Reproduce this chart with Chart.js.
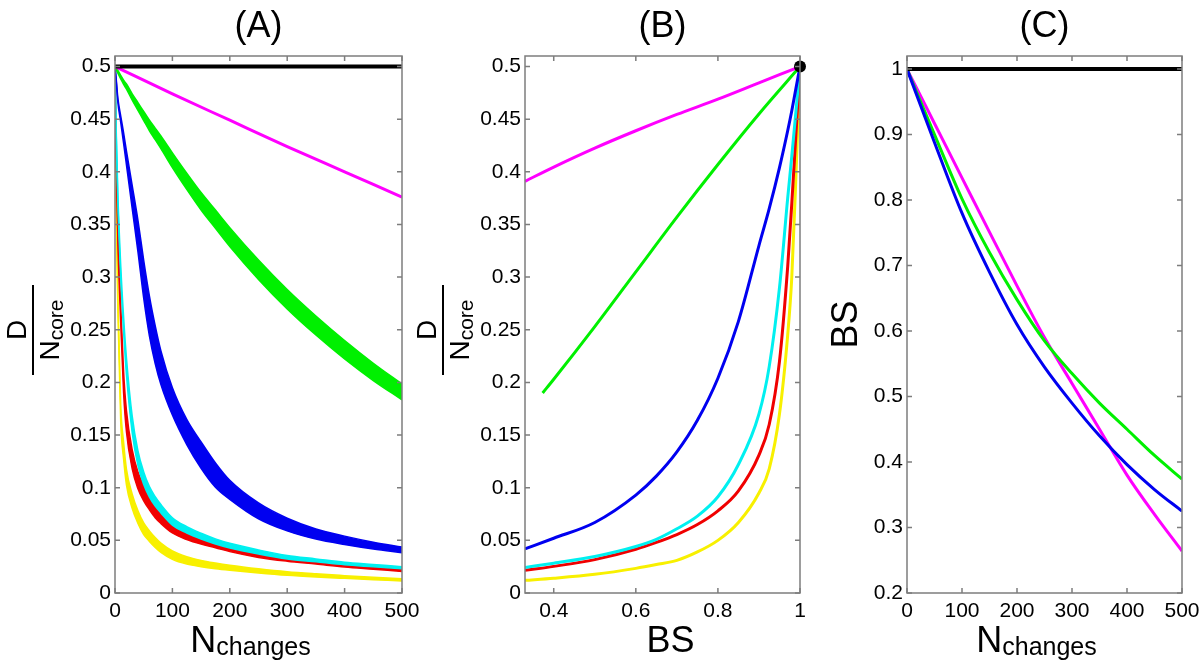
<!DOCTYPE html>
<html>
<head>
<meta charset="utf-8">
<title>D/Ncore and BS versus Nchanges</title>
<script src="https://cdn.jsdelivr.net/npm/chart.js@4.4.0/dist/chart.umd.min.js"></script>
<style>
  html, body { margin: 0; padding: 0; background: #fff; }
  #wrap { position: relative; width: 1200px; height: 663px; overflow: hidden; }
  canvas { position: absolute; top: 0; }
  #chartA { left: 0; }
  #chartB { left: 410px; }
  #chartC { left: 810px; }
</style>
</head>
<body>
<div id="wrap">
  <canvas id="chartA" width="420" height="663"></canvas>
  <canvas id="chartB" width="400" height="663"></canvas>
  <canvas id="chartC" width="390" height="663"></canvas>
</div>
<script>
// ---- panel A : D/Ncore vs Nchanges (bands = lower / upper edge) ----
const nA = [0, 2, 5, 10, 15, 20, 30, 40, 50, 60, 70, 80, 100, 125, 150, 175, 200, 250, 300, 350, 400, 450, 500];
const greenUpA = [0.5, 0.499, 0.4963, 0.4917, 0.487, 0.4834, 0.474, 0.4657, 0.4573, 0.449, 0.4415, 0.434, 0.418, 0.3987, 0.3803, 0.3637, 0.347, 0.3162, 0.2882, 0.263, 0.2397, 0.2182, 0.1985];
const greenLowA = [0.5, 0.497, 0.4937, 0.4883, 0.483, 0.4786, 0.468, 0.4583, 0.4487, 0.439, 0.4305, 0.422, 0.404, 0.3833, 0.3637, 0.3463, 0.329, 0.2978, 0.2698, 0.245, 0.2223, 0.2018, 0.1835];
const blueUpA = [0.5, 0.489, 0.47, 0.453, 0.437, 0.4196, 0.387, 0.354, 0.316, 0.282, 0.254, 0.23, 0.195, 0.165, 0.1435, 0.1235, 0.107, 0.0855, 0.071, 0.0608, 0.054, 0.0483, 0.0437];
const blueLowA = [0.5, 0.487, 0.466, 0.447, 0.427, 0.4064, 0.365, 0.324, 0.28, 0.244, 0.218, 0.198, 0.169, 0.141, 0.1185, 0.1005, 0.089, 0.0705, 0.059, 0.0512, 0.046, 0.0417, 0.0383];
const cyanUpA = [0.5, 0.442, 0.379, 0.311, 0.262, 0.223, 0.168, 0.135, 0.115, 0.101, 0.0915, 0.084, 0.0715, 0.063, 0.0567, 0.0514, 0.0472, 0.0409, 0.0356, 0.0324, 0.0292, 0.0271, 0.025];
const cyanLowA = [0.5, 0.438, 0.371, 0.299, 0.248, 0.207, 0.152, 0.121, 0.103, 0.091, 0.0825, 0.076, 0.0645, 0.057, 0.0513, 0.0466, 0.0428, 0.0371, 0.0324, 0.0296, 0.0268, 0.0249, 0.023];
const redUpA = [0.5, 0.423, 0.346, 0.274, 0.21, 0.173, 0.136, 0.115, 0.1025, 0.093, 0.0845, 0.078, 0.067, 0.0592, 0.0536, 0.049, 0.0447, 0.0382, 0.0338, 0.0305, 0.0273, 0.0248, 0.0225];
const redLowA = [0.5, 0.417, 0.334, 0.256, 0.19, 0.153, 0.118, 0.099, 0.0875, 0.079, 0.0715, 0.066, 0.057, 0.0508, 0.0464, 0.043, 0.0393, 0.0338, 0.0302, 0.0275, 0.0247, 0.0226, 0.0205];
const yellowUpA = [0.5, 0.384, 0.282, 0.178, 0.143, 0.1175, 0.0938, 0.078, 0.0665, 0.059, 0.0527, 0.0474, 0.04, 0.0345, 0.031, 0.0285, 0.0264, 0.023, 0.0202, 0.0182, 0.0165, 0.0149, 0.0135];
const yellowLowA = [0.5, 0.376, 0.268, 0.162, 0.127, 0.1025, 0.0802, 0.066, 0.0555, 0.049, 0.0433, 0.0386, 0.032, 0.0275, 0.025, 0.0231, 0.0216, 0.019, 0.0168, 0.0152, 0.0139, 0.0127, 0.0115];
const nMagentaA = [0, 100, 200, 300, 400, 500];
const magentaA = [0.5, 0.474, 0.449, 0.424, 0.4, 0.376];
const nBlackA = [0, 500];
const blackA = [0.5, 0.5];

// ---- panel B : D/Ncore vs BS ----
const bsMagentaB = [0.33, 0.4, 0.5, 0.6, 0.7, 0.8, 0.9, 1.0];
const magentaB = [0.391, 0.4045, 0.4225, 0.439, 0.4545, 0.469, 0.4845, 0.5];
const bsGreenB = [0.373, 0.4, 0.5, 0.6, 0.7, 0.8, 0.9, 1.0];
const greenB = [0.19, 0.203, 0.253, 0.305, 0.357, 0.407, 0.455, 0.5];
const bsB = [0.33, 0.4, 0.5, 0.6, 0.65, 0.7, 0.75, 0.8, 0.85, 0.9, 0.925, 0.95, 0.97, 0.98, 0.99, 1.0];
const blueB = [0.042, 0.052, 0.067, 0.093, 0.111, 0.134, 0.164, 0.204, 0.258, 0.33, 0.365, 0.404, 0.439, 0.458, 0.479, 0.5];
const cyanB = [0.0242, 0.0283, 0.0347, 0.0442, 0.051, 0.061, 0.073, 0.0914, 0.122, 0.17, 0.215, 0.29, 0.375, 0.415, 0.457, 0.5];
const redB = [0.0215, 0.0253, 0.0317, 0.0415, 0.048, 0.0555, 0.065, 0.078, 0.097, 0.131, 0.16, 0.22, 0.31, 0.37, 0.435, 0.5];
const yellowB = [0.012, 0.014, 0.0177, 0.0234, 0.027, 0.031, 0.039, 0.05, 0.067, 0.095, 0.118, 0.17, 0.245, 0.3, 0.395, 0.5];
const bsDotB = [1];
const dotB = [0.5];

// ---- panel C : BS vs Nchanges ----
const nC = [0, 50, 100, 150, 200, 250, 300, 350, 400, 450, 500];
const blackC = [1, 1, 1, 1, 1, 1, 1, 1, 1, 1, 1];
const magentaC = [1, 0.917, 0.834, 0.751, 0.669, 0.59, 0.52, 0.45, 0.38, 0.32, 0.264];
const greenC = [1, 0.9, 0.802, 0.72, 0.648, 0.585, 0.535, 0.49, 0.45, 0.41, 0.374];
const blueC = [1, 0.888, 0.78, 0.69, 0.61, 0.545, 0.49, 0.44, 0.396, 0.358, 0.325];

// tick values
const xTicksN = [0, 100, 200, 300, 400, 500];
const yTicksD = [0, 0.05, 0.1, 0.15, 0.2, 0.25, 0.3, 0.35, 0.4, 0.45, 0.5];
const xTicksBS = [0.4, 0.6, 0.8, 1];
const yTicksBS = [0.2, 0.3, 0.4, 0.5, 0.6, 0.7, 0.8, 0.9, 1];

const FONT = '"Liberation Sans", Arial, Helvetica, sans-serif';
const GREEN = '#00f000', BLUE = '#0000f0', MAGENTA = '#ff00ff', CYAN = '#00f0f0', RED = '#f00000', YELLOW = '#f8f000';

function fmtTick(v) {
  return String(Number(Number(v).toFixed(3)));
}

function points(xs, ys) {
  return xs.map((x, i) => ({x: x, y: ys[i]}));
}

function lineSet(xs, ys, color, width) {
  return {
    data: points(xs, ys),
    borderColor: color,
    backgroundColor: color,
    borderWidth: width,
    pointRadius: 0,
    fill: false,
    cubicInterpolationMode: 'monotone'
  };
}

// lower edge then upper edge, the upper one fills down to the lower
function bandSets(xs, low, up, color) {
  let lower = lineSet(xs, low, color, 1.5);
  let upper = lineSet(xs, up, color, 1.5);
  upper.fill = '-1';
  return [lower, upper];
}

function axis(min, max, tickVals, size, horizontal) {
  return {
    type: 'linear',
    min: min,
    max: max,
    grid: {display: false, drawTicks: false},
    border: {display: false},
    ticks: {
      color: '#000',
      font: {family: FONT, size: 21},
      padding: horizontal ? 6 : 4,
      autoSkip: false,
      maxRotation: 0,
      callback: fmtTick
    },
    afterBuildTicks: s => { s.ticks = tickVals.map(v => ({value: v})); },
    afterFit: s => {
      if (horizontal) {
        s.height = size; s.paddingLeft = 0; s.paddingRight = 0;
      } else {
        s.width = size; s.paddingTop = 0; s.paddingBottom = 0;
      }
    }
  };
}

function drawSubText(ctx, cx, baseline, main, sub, mainPx, subPx, drop) {
  ctx.font = mainPx + 'px ' + FONT;
  const wMain = ctx.measureText(main).width;
  ctx.font = subPx + 'px ' + FONT;
  const wSub = ctx.measureText(sub).width;
  const x = cx - (wMain + wSub) / 2;
  ctx.textAlign = 'left';
  ctx.textBaseline = 'alphabetic';
  ctx.font = mainPx + 'px ' + FONT;
  ctx.fillText(main, x, baseline);
  ctx.font = subPx + 'px ' + FONT;
  ctx.fillText(sub, x + wMain, baseline + drop);
}

// frame, inward ticks, title and axis labels (matlab look)
const panelDecor = {
  id: 'panelDecor',
  afterDraw(chart, args, opts) {
    const ctx = chart.ctx;
    const a = chart.chartArea;
    const xs = chart.scales.x, ys = chart.scales.y;
    ctx.save();
    ctx.strokeStyle = '#7d7d7d';
    ctx.lineWidth = 1.5;
    ctx.strokeRect(a.left, a.top, a.right - a.left, a.bottom - a.top);
    ctx.beginPath();
    xs.ticks.forEach(t => {
      const p = xs.getPixelForValue(t.value);
      ctx.moveTo(p, a.bottom); ctx.lineTo(p, a.bottom - 5);
      ctx.moveTo(p, a.top); ctx.lineTo(p, a.top + 5);
    });
    ys.ticks.forEach(t => {
      const p = ys.getPixelForValue(t.value);
      ctx.moveTo(a.left, p); ctx.lineTo(a.left + 5, p);
      ctx.moveTo(a.right, p); ctx.lineTo(a.right - 5, p);
    });
    ctx.stroke();

    ctx.fillStyle = '#000';
    const mid = (a.left + a.right) / 2;
    // title
    ctx.font = '36px ' + FONT;
    ctx.textAlign = 'center';
    ctx.textBaseline = 'alphabetic';
    ctx.fillText(opts.title, mid, 37);

    // x label
    if (opts.xSub) {
      drawSubText(ctx, mid + opts.xShift, 652, opts.xMain, opts.xSub, 36, 25, 3);
    } else {
      ctx.font = '36px ' + FONT;
      ctx.textAlign = 'center';
      ctx.fillText(opts.xMain, mid + opts.xShift, 652);
    }

    // y label
    if (opts.yKind === 'frac') {
      ctx.save();
      ctx.translate(a.left - 82, 330);
      ctx.rotate(-Math.PI / 2);
      ctx.font = '28px ' + FONT;
      ctx.textAlign = 'center';
      ctx.fillText('D', 0, -7);
      ctx.fillRect(-45, -1, 90, 2);
      drawSubText(ctx, 0, 26, 'N', 'core', 28, 21, 4);
      ctx.restore();
    } else {
      ctx.save();
      ctx.translate(a.left - 63, (a.top + a.bottom) / 2);
      ctx.rotate(-Math.PI / 2);
      ctx.font = '36px ' + FONT;
      ctx.textAlign = 'center';
      ctx.fillText(opts.yText, 0, 13);
      ctx.restore();
    }
    ctx.restore();
  }
};

function createPanel(id, datasets, cfg) {
  return new Chart(document.getElementById(id), {
    type: 'line',
    data: {datasets: datasets},
    options: {
      responsive: false,
      animation: false,
      events: [],
      layout: {padding: {top: 56, right: cfg.padRight, bottom: 0, left: 0}},
      plugins: {
        legend: {display: false},
        tooltip: {enabled: false},
        panelDecor: cfg.decor
      },
      scales: {
        x: axis(cfg.xMin, cfg.xMax, cfg.xTicks, 70, true),
        y: axis(cfg.yMin, cfg.yMax, cfg.yTicks, cfg.yWidth, false)
      }
    },
    plugins: [panelDecor]
  });
}

// panel A
let datasetsA = [
  lineSet(nBlackA, blackA, '#000', 4),
  lineSet(nMagentaA, magentaA, MAGENTA, 3)
]
  .concat(bandSets(nA, greenLowA, greenUpA, GREEN))
  .concat(bandSets(nA, blueLowA, blueUpA, BLUE))
  .concat(bandSets(nA, cyanLowA, cyanUpA, CYAN))
  .concat(bandSets(nA, redLowA, redUpA, RED))
  .concat(bandSets(nA, yellowLowA, yellowUpA, YELLOW));

createPanel('chartA', datasetsA, {
  padRight: 18, yWidth: 115,
  xMin: 0, xMax: 500, xTicks: xTicksN,
  yMin: 0, yMax: 0.51, yTicks: yTicksD,
  decor: {title: '(A)', xMain: 'N', xSub: 'changes', xShift: -8, yKind: 'frac'}
});

// panel B
let dotSet = lineSet(bsDotB, dotB, '#000', 0);
dotSet.pointRadius = 6;
dotSet.pointBackgroundColor = '#000';
dotSet.pointBorderColor = '#000';
dotSet.showLine = false;
dotSet.clip = false;

let datasetsB = [
  dotSet,
  lineSet(bsMagentaB, magentaB, MAGENTA, 3),
  lineSet(bsGreenB, greenB, GREEN, 3),
  lineSet(bsB, blueB, BLUE, 3),
  lineSet(bsB, cyanB, CYAN, 3),
  lineSet(bsB, redB, RED, 3),
  lineSet(bsB, yellowB, YELLOW, 3)
];

createPanel('chartB', datasetsB, {
  padRight: 10, yWidth: 115,
  xMin: 0.33, xMax: 1, xTicks: xTicksBS,
  yMin: 0, yMax: 0.51, yTicks: yTicksD,
  decor: {title: '(B)', xMain: 'BS', xSub: '', xShift: 8, yKind: 'frac'}
});

// panel C
let datasetsC = [
  lineSet(nC, blackC, '#000', 4),
  lineSet(nC, blueC, BLUE, 3),
  lineSet(nC, greenC, GREEN, 3),
  lineSet(nC, magentaC, MAGENTA, 3)
];

createPanel('chartC', datasetsC, {
  padRight: 18, yWidth: 97,
  xMin: 0, xMax: 500, xTicks: xTicksN,
  yMin: 0.2, yMax: 1.02, yTicks: yTicksBS,
  decor: {title: '(C)', xMain: 'N', xSub: 'changes', xShift: -8, yKind: 'text', yText: 'BS'}
});
</script>
</body>
</html>
